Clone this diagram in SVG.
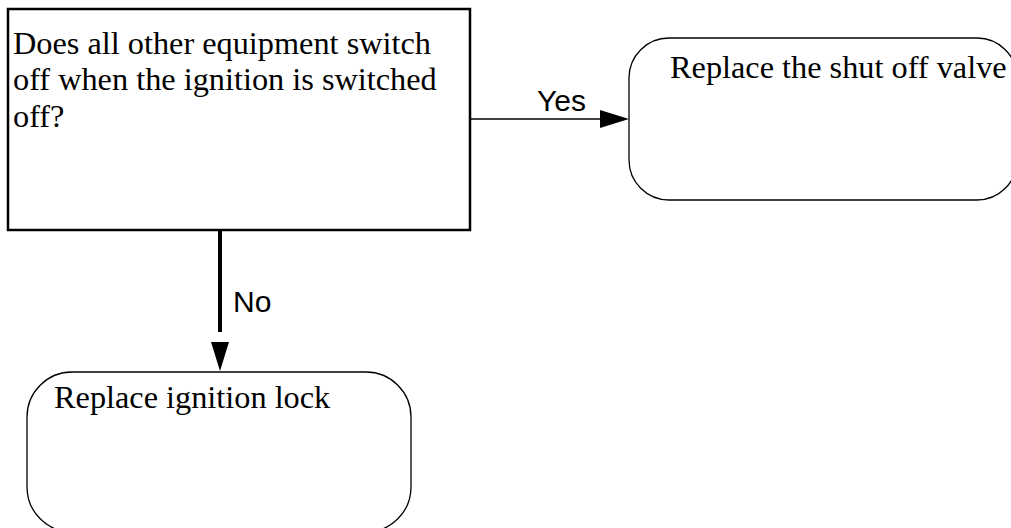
<svg xmlns="http://www.w3.org/2000/svg" width="1011" height="528" viewBox="0 0 1011 528">
<style>
.serif{font-family:"Liberation Serif","Times New Roman",serif;font-size:32.3px;fill:#000}
.sans{font-family:"Liberation Sans",Arial,sans-serif;font-size:30px;fill:#000}
.box{fill:#fff;stroke:#000;stroke-width:2.5}
.rbox{fill:#fff;stroke:#000;stroke-width:1.3}
</style>
<rect width="1011" height="528" fill="#fff"/>
<g id="decision">
<rect class="box" x="8" y="9" width="462" height="221"/>
<text class="serif" x="13" y="54">Does all other equipment switch</text>
<text class="serif" x="13" y="90">off when the ignition is switched</text>
<text class="serif" x="13" y="127">off?</text>
</g>
<g id="shutoff">
<rect class="rbox" x="629" y="38" width="388" height="162" rx="40" ry="40"/>
<text class="serif" x="670" y="78">Replace the shut off valve</text>
</g>
<g id="ignitionlock">
<rect class="rbox" x="27" y="372" width="384" height="160" rx="45" ry="45"/>
<text class="serif" x="54" y="408">Replace ignition lock</text>
</g>
<g id="connectors">
<line x1="470" y1="119" x2="601" y2="119" stroke="#000" stroke-width="1.6"/>
<polygon points="600,110 629,119 600,128" fill="#000"/>
<text class="sans" x="537" y="111">Yes</text>
<line x1="220" y1="230" x2="220" y2="332" stroke="#000" stroke-width="4"/>
<polygon points="211,342 229,342 220,371" fill="#000"/>
<text class="sans" x="233" y="312">No</text>
</g>
</svg>
